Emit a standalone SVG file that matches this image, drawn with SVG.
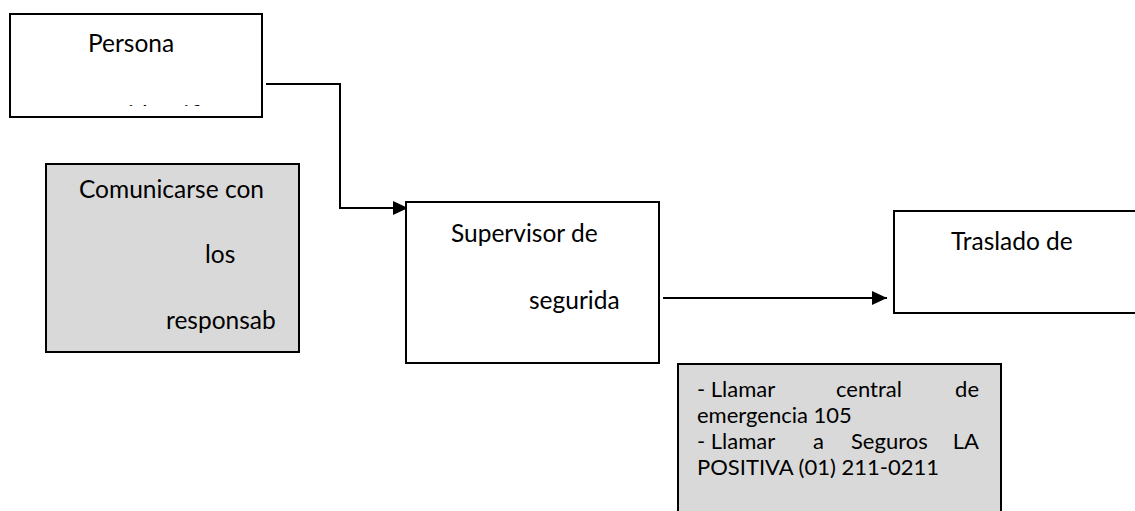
<svg xmlns="http://www.w3.org/2000/svg" width="1135" height="511" viewBox="0 0 1135 511">
<style>
.box{fill:#ffffff;stroke:#000;stroke-width:2}
.gray{fill:#d9d9d9;stroke:#000;stroke-width:2}
.t{font-family:Lato,"Liberation Sans",sans-serif;font-size:24.5px;fill:#000}
.ts{font-family:Lato,"Liberation Sans",sans-serif;font-size:22px;fill:#000}
.con{fill:none;stroke:#000;stroke-width:2}
</style>
<defs>
<marker id="arr2" markerWidth="15" markerHeight="14" refX="15" refY="7" orient="auto" markerUnits="userSpaceOnUse" viewBox="0 0 15 14">
<path d="M0,0 L15,7 L0,14 Z" fill="#000"/>
</marker>
<clipPath id="clipP"><rect x="10" y="14" width="252" height="92"/></clipPath>
</defs>
<g id="connectors">
<path class="con" d="M266,84 H340 V208 H408" marker-end="url(#arr2)"/>
<path class="con" d="M663,298 H887" marker-end="url(#arr2)"/>
</g>
<g id="persona">
<rect class="box" x="10" y="14" width="252" height="103"/>
<text class="t" x="88" y="52">Persona</text>
<text class="t" x="128" y="124" clip-path="url(#clipP)">identifi</text>
</g>
<g id="comunicarse">
<rect class="gray" x="46" y="164" width="253" height="188"/>
<text class="t" x="79" y="198">Comunicarse con</text>
<text class="t" x="205" y="263">los</text>
<text class="t" x="166" y="329">responsab</text>
</g>
<g id="supervisor">
<rect class="box" x="406" y="202" width="253" height="161"/>
<text class="t" x="451" y="242">Supervisor de</text>
<text class="t" x="529" y="309">segurida</text>
</g>
<g id="traslado">
<rect class="box" x="894" y="211" width="250" height="102"/>
<text class="t" x="951" y="250">Traslado de</text>
</g>
<g id="llamar">
<rect class="gray" x="678" y="364" width="323" height="160"/>
<text class="ts" x="697" y="397">- Llamar</text>
<text class="ts" x="836" y="397">central</text>
<text class="ts" x="979" y="397" text-anchor="end">de</text>
<text class="ts" x="697" y="423">emergencia 105</text>
<text class="ts" x="697" y="449">- Llamar</text>
<text class="ts" x="813" y="449">a</text>
<text class="ts" x="851" y="449">Seguros</text>
<text class="ts" x="979" y="449" text-anchor="end">LA</text>
<text class="ts" x="697" y="475">POSITIVA (01) 211-0211</text>
</g>
</svg>
